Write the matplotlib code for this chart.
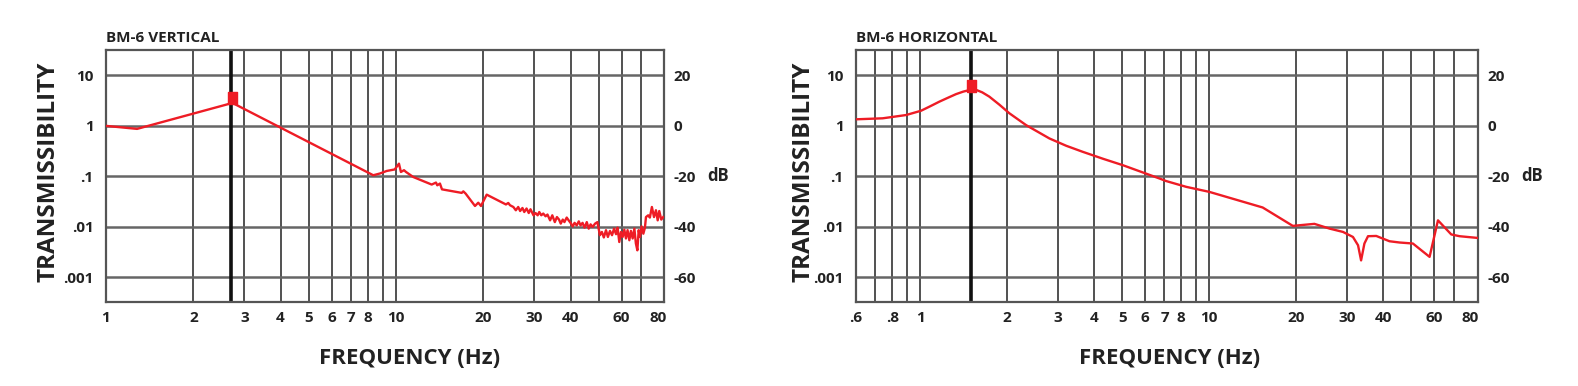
import numpy as np
import matplotlib
matplotlib.use('Agg')
import matplotlib.pyplot as plt

plt.rcParams['font.family'] = ['Open Sans', 'DejaVu Sans']
plt.rcParams['font.weight'] = 'bold'

RED = '#ee1c25'

# BM-6 vertical response (frequency in Hz, response in dB)
vert_freq = [1.0, 1.28, 2.73, 8.35, 8.81, 9.29, 9.9, 10.24, 10.4, 10.66, 10.83, 11.47,
             13.28, 13.74, 13.88, 14.18, 14.41, 16.85, 17.07, 17.39, 18.73, 19.22, 19.64,
             20.55, 23.95, 24.39, 24.73,
             25.4, 25.9, 26.4, 26.8, 27.3, 27.7, 28.2, 28.7, 29.1, 29.8,
             30.3, 30.8, 31.2, 31.7, 32.2, 32.8, 33.3, 34.0, 34.6, 35.3,
             35.9, 36.5, 37.0, 37.6, 38.1, 38.8, 39.4, 40.0, 40.7, 41.3,
             42.0, 42.7, 43.3, 44.0, 44.7, 45.5, 46.2, 46.9, 47.7, 48.6,
             49.5, 50.0, 50.5, 51.3, 52.1, 53.0, 53.8, 54.7, 55.6, 56.5,
             57.4, 58.1, 58.9, 59.7, 60.5, 61.3, 62.1, 62.9, 63.8, 64.6,
             65.5, 66.4, 67.2, 68.0, 68.7, 69.4, 70.3, 71.3, 72.2, 72.8,
             74.1, 75.1, 76.3, 77.6, 78.8, 79.9, 80.9, 82.2, 83.5]
vert_db = [0.0, -1.2, 9.1, -19.6, -18.9, -17.9, -17.3, -15.0, -18.3, -17.6, -18.3, -20.3,
           -23.3, -22.5, -23.6, -22.9, -25.2, -26.6, -26.0, -26.9, -31.8, -30.5, -31.8,
           -27.3, -31.2, -30.6, -31.5,
           -32.2, -33.5, -32.2, -33.8, -32.6, -34.2, -32.8, -34.6, -33.1, -35.5,
           -34.6, -35.5, -34.2, -35.5, -34.8, -35.9, -35.2, -37.5, -35.5, -38.2,
           -36.2, -37.2, -38.8, -37.2, -38.2, -36.4, -37.5, -38.5, -39.9, -38.5,
           -39.5, -37.9, -39.5, -38.5, -40.4, -38.2, -40.8, -39.1, -40.1, -38.8,
           -38.2, -40.8, -43.4, -42.1, -44.3, -41.4, -44.1, -41.7, -43.4, -40.8,
           -43.0, -40.4, -46.1, -42.1, -44.1, -41.2, -44.7, -41.4, -45.4, -41.7,
           -44.7, -40.8, -46.7, -49.4, -41.4, -44.1, -39.9, -42.8, -40.4, -36.2,
           -35.5, -36.4, -32.2, -36.2, -33.5, -37.5, -33.8, -37.2, -36.2]
vert_peak = (2.73, 3.6)
vert_res = 2.7

# BM-6 horizontal response
horiz_freq = [0.6, 0.742, 0.894, 1.007, 1.08, 1.165, 1.25, 1.331, 1.41, 1.48, 1.561, 1.64,
              1.735, 1.88, 2.035, 2.325, 2.80, 3.2, 3.65, 4.3, 5.02, 6.73, 7.09, 8.32,
              10.0, 15.3, 19.45, 23.1, 26.1, 29.0, 31.4, 32.7, 33.5, 34.4, 35.4, 37.8,
              42.0, 45.5, 50.6, 57.8, 61.8, 68.7, 73.4, 85.0]
horiz_db = [2.6, 3.0, 4.3, 6.0, 7.7, 9.6, 11.2, 12.6, 13.6, 14.2, 14.3, 13.3,
            11.6, 8.4, 5.0, 0.3, -5.0, -7.9, -10.3, -13.1, -15.6, -20.9, -21.9, -24.2,
            -26.2, -32.4, -39.7, -38.9, -40.8, -42.1, -44.1, -47.4, -53.4, -46.7, -43.8, -43.7,
            -45.8, -46.3, -46.7, -52.0, -37.5, -43.1, -43.8, -44.5]
horiz_peak = (1.5, 6.1)
horiz_res = 1.5

vert_grid = [2, 3, 4, 5, 6, 7, 8, 9, 10, 20, 30, 40, 50, 60, 70]
vert_ticks = [1, 2, 3, 4, 5, 6, 7, 8, 10, 20, 30, 40, 60, 80]
vert_labels = ['1', '2', '3', '4', '5', '6', '7', '8', '10', '20', '30', '40', '60', '80']
horiz_grid = [0.7, 0.8, 0.9, 1, 2, 3, 4, 5, 6, 7, 8, 9, 10, 20, 30, 40, 50, 60, 70]
horiz_ticks = [0.6, 0.8, 1, 2, 3, 4, 5, 6, 7, 8, 10, 20, 30, 40, 60, 80]
horiz_labels = ['.6', '.8', '1', '2', '3', '4', '5', '6', '7', '8', '10', '20', '30', '40', '60', '80']

t_ticks = [10, 1, 0.1, 0.01, 0.001]
t_labels = ['10', '1', '.1', '.01', '.001']
db_labels = ['20', '0', '-20', '-40', '-60']

ylims = (10 ** -3.486, 10 ** 1.506)

fig = plt.figure(figsize=(15.78, 3.86), dpi=100)

# marker a bit taller than wide, like the original
box = [(-0.72, -1), (0.72, -1), (0.72, 1), (-0.72, 1), (-0.72, -1)]


def panel(rect, freq, db, peak, res, xlim, grid, ticks, labels, title):
    ax = fig.add_axes(rect)
    ax.set_xscale('log')
    ax.set_yscale('log')
    ax.set_xlim(*xlim)
    ax.set_ylim(*ylims)
    for g in grid:
        ax.axvline(g, color='#333333', lw=1.2, zorder=1)
    for t in t_ticks:
        ax.axhline(t, color='#666666', lw=1.8, zorder=1)
    ax.axvline(res, color='#111111', lw=2.6, zorder=2)
    trans = 10 ** (np.array(db) / 20.0)
    ax.plot(freq, trans, color=RED, lw=1.7, zorder=3)
    ax.plot([peak[0]], [peak[1]], marker=box, color=RED, ms=9, zorder=4)

    ax.xaxis.set_minor_locator(matplotlib.ticker.NullLocator())
    ax.yaxis.set_minor_locator(matplotlib.ticker.NullLocator())
    ax.set_xticks(ticks)
    ax.set_xticklabels(labels)
    ax.set_yticks(t_ticks)
    ax.set_yticklabels(t_labels)
    ax.tick_params(length=0, labelsize=11, pad=7, labelcolor='#222222')
    ax.tick_params(axis='y', pad=9)
    for s in ax.spines.values():
        s.set_color('#555555')
        s.set_linewidth(1.6)

    ax2 = ax.twinx()
    ax2.set_yscale('log')
    ax2.set_ylim(*ylims)
    ax2.yaxis.set_minor_locator(matplotlib.ticker.NullLocator())
    ax2.set_yticks(t_ticks)
    ax2.set_yticklabels(db_labels)
    ax2.tick_params(length=0, labelsize=11, pad=7, labelcolor='#222222')
    for s in ax2.spines.values():
        s.set_visible(False)
    ax.annotate('dB', xy=(1, 0.1), xycoords=('axes fraction', 'data'),
                xytext=(43, 0), textcoords='offset pixels', va='center', ha='left',
                fontsize=12, color='#222222')
    ax.text(0.0, 1.02, title, transform=ax.transAxes, fontsize=11,
            ha='left', va='bottom', color='#222222')
    return ax


panel([0.06717, 0.2189, 0.35361, 0.6516], vert_freq, vert_db, vert_peak, vert_res,
      (1.0, 84.0), vert_grid, vert_ticks, vert_labels, 'BM-6 VERTICAL')
panel([0.54246, 0.2189, 0.39417, 0.6516], horiz_freq, horiz_db, horiz_peak, horiz_res,
      (0.6, 85.0), horiz_grid, horiz_ticks, horiz_labels, 'BM-6 HORIZONTAL')

for x in [49, 804]:
    fig.text(x / 1578.0, 1 - 172 / 386.0, 'TRANSMISSIBILITY', rotation=90,
             ha='center', va='center', fontsize=17.5, color='#222222')
for x in [410, 1170]:
    fig.text(x / 1578.0, 1 - 358 / 386.0, 'FREQUENCY (Hz)',
             ha='center', va='center', fontsize=16, color='#222222')

plt.savefig('out.png', dpi=100)
